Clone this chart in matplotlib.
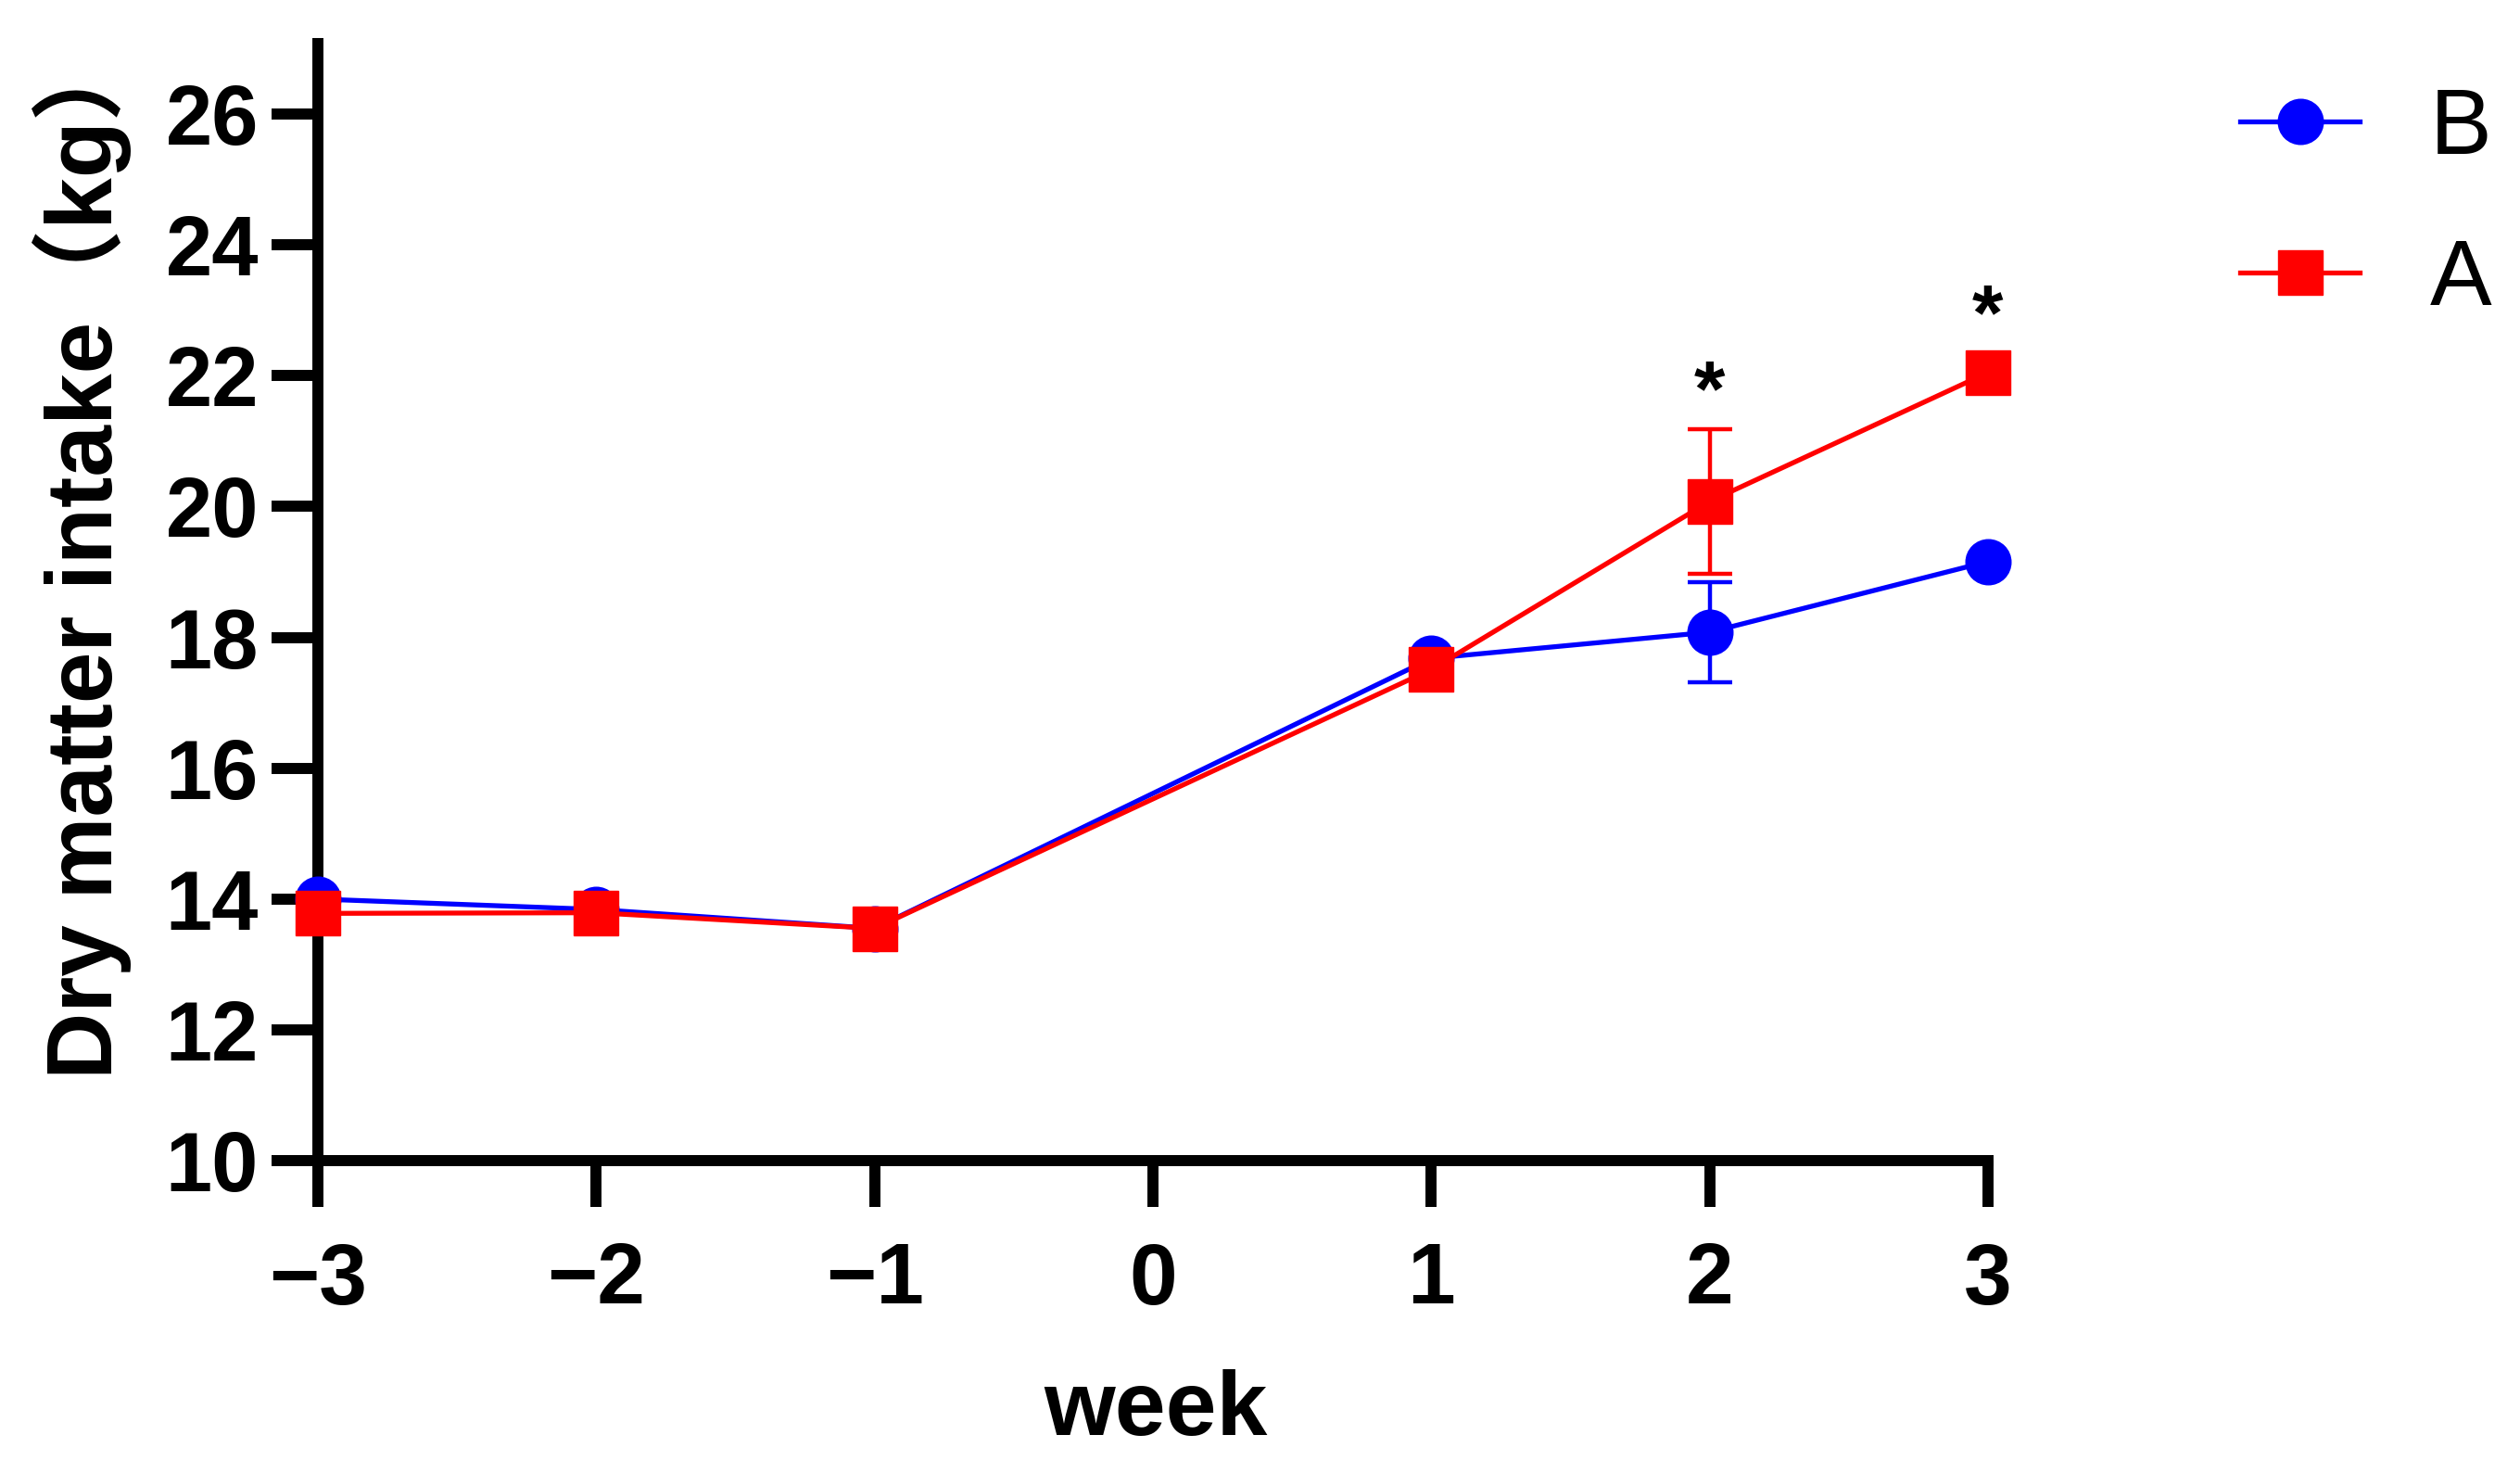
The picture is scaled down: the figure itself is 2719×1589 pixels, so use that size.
import numpy as np
import matplotlib
matplotlib.use("Agg")
import matplotlib.pyplot as plt

plt.rcParams['font.family'] = ['Liberation Sans', 'Noto Sans CJK SC', 'DejaVu Sans']

# data
weeks = [-3, -2, -1, 1, 2, 3]
dmi_B = [14.0, 13.84, 13.55, 17.68, 18.08, 19.16]
err_B = [0, 0, 0, 0, 0.76, 0]
dmi_A = [13.78, 13.79, 13.55, 17.51, 20.08, 22.05]
err_A = [0, 0, 0, 0, 1.11, 0]
star_weeks = [2, 3]
xticks = [-3, -2, -1, 0, 1, 2, 3]
yticks = [10, 12, 14, 16, 18, 20, 22, 24, 26]

W, H = 2719, 1589
fig = plt.figure(figsize=(W / 100, H / 100), dpi=100)
ax = fig.add_axes([343 / W, 1 - 1252 / H, (2145 - 343) / W, (1252 - 47) / H])

ms = 35
lw = 3.8


def draw(y, err, color, marker, label):
    line, = ax.plot(weeks, y, color=color, marker=marker, ms=ms, lw=lw,
                    label=label, clip_on=False, zorder=3)
    xs = [w for w, e in zip(weeks, err) if e > 0]
    ys = [v for v, e in zip(y, err) if e > 0]
    es = [e for e in err if e > 0]
    ax.errorbar(xs, ys, yerr=es, fmt='none', ecolor=color, elinewidth=3.2,
                capsize=17.6, capthick=3.2, zorder=3)
    return line


hB = draw(dmi_B, err_B, '#0000ff', 'o', 'B')
hA = draw(dmi_A, err_A, '#ff0000', 's', 'A')

# significance marks above group A
for w in star_weeks:
    i = weeks.index(w)
    top = dmi_A[i] + err_A[i]
    off = 10 if err_A[i] > 0 else 26
    ax.annotate('*', (w, top), xytext=(0, off), textcoords='offset points',
                ha='center', va='baseline', fontsize=62, fontweight='bold')

ax.set_xlim(-3, 3)
ax.set_ylim(10, 27.08)
ax.set_xticks(xticks)
ax.set_yticks(yticks)
for s in ['top', 'right']:
    ax.spines[s].set_visible(False)
for s in ['left', 'bottom']:
    ax.spines[s].set_linewidth(8.6)
ax.tick_params(axis='both', width=8.6, length=36, direction='out')
ax.tick_params(axis='y', pad=10, labelsize=65)
ax.tick_params(axis='x', pad=27, labelsize=67)
for t in ax.get_xticklabels() + ax.get_yticklabels():
    t.set_fontweight('bold')

fig.text(89 / W, 1 - 597 / H, 'Dry matter intake（kg）', rotation=90,
         ha='center', va='center', fontsize=72, fontweight='bold')
fig.text(1247 / W, 1 - 1548 / H, 'week', ha='center', va='baseline',
         fontsize=71, fontweight='bold')

fig.legend([hB, hA], ['B', 'A'], loc='upper left',
           bbox_to_anchor=(2417 / W, 1 - 93 / H), frameon=False,
           fontsize=72, handlelength=1.29, handletextpad=0.76,
           labelspacing=0.69, borderpad=0, borderaxespad=0)

fig.savefig('out.png', dpi=100)
